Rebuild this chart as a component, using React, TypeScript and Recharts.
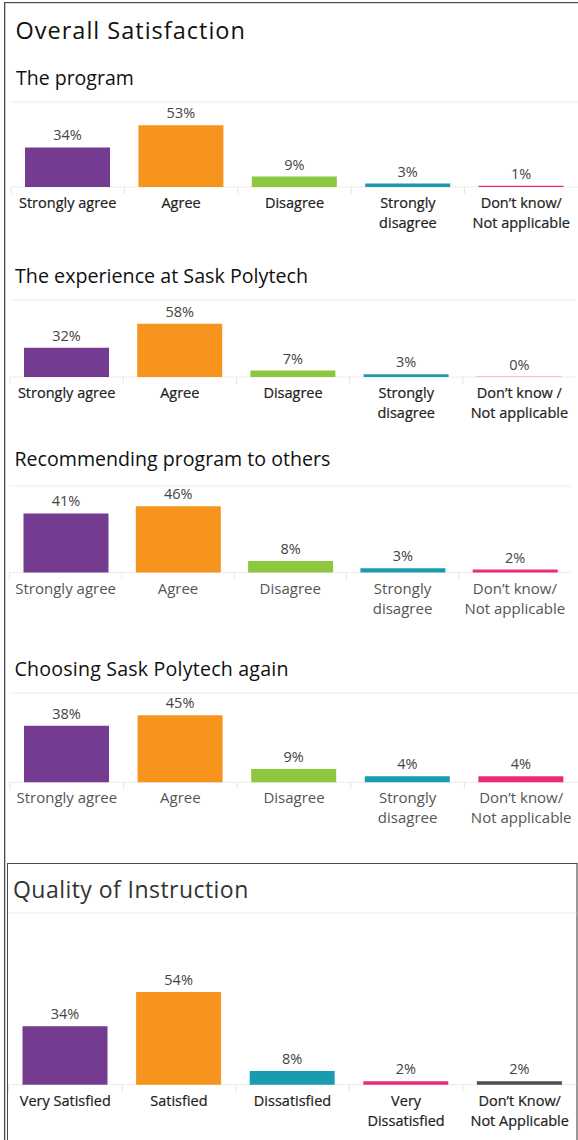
import React from "react";
import { BarChart, Bar, XAxis, YAxis, CartesianGrid, Cell, LabelList } from "recharts";

const FONT = "'Open Sans', 'Noto Sans', sans-serif";
const W = 578;

// ---- data ----
const agreeCategories = ["Strongly agree", "Agree", "Disagree", "Strongly\ndisagree", "Don’t know/\nNot applicable"];
const experienceCategories = ["Strongly agree", "Agree", "Disagree", "Strongly\ndisagree", "Don’t know /\nNot applicable"];
const instructionCategories = ["Very Satisfied", "Satisfied", "Dissatisfied", "Very\nDissatisfied", "Don’t Know/\nNot Applicable"];

const programValues = [34, 53, 9, 3, 1];
const experienceValues = [32, 58, 7, 3, 0.3];
const recommendValues = [41, 46, 8, 3, 2];
const chooseAgainValues = [38, 45, 9, 4, 4];
const instructionValues = [34, 54, 8, 2, 2];

const programTicks = [0, 20, 40, 60];
const experienceTicks = [0, 50];
const recommendTicks = [0, 20, 40, 60];
const chooseAgainTicks = [0, 20, 40, 60];
const instructionTicks = [0, 20, 40, 60, 80, 100];

const agreeColors = ["#753B91", "#F7941E", "#8DC63F", "#1A9BB1", "#EC2B7B"];
const instructionColors = ["#753B91", "#F7941E", "#1A9BB1", "#EC2B7B", "#4D4D4D"];

type PanelProps = {
  categories: string[];
  values: number[];
  colors: string[];
  plotTop: number;
  baseline: number;
  left: number;
  right: number;
  domainMax: number;
  ticks: number[];
  medium: boolean;
  tickColor: string;
  tickSize: number;
};

function Panel(p: PanelProps) {
  const data = p.categories.map((c, i) => ({ category: c, value: p.values[i] }));
  const marginTop = 30;
  const axisH = 50;
  const chartTop = p.plotTop - marginTop;
  const height = marginTop + (p.baseline - p.plotTop) + axisH;
  const band = (p.right - p.left) / p.categories.length;

  const renderTick = (props: any) => {
    const { x, y, payload } = props;
    const lines = String(payload.value).split("\n");
    return (
      <g>
        <line x1={x - band / 2} x2={x - band / 2} y1={y} y2={y + 7} stroke="#e4e4e4" />
        <text
          x={x}
          y={y + 21}
          textAnchor="middle"
          fill={p.tickColor}
          stroke={p.medium ? p.tickColor : "none"}
          strokeWidth={p.medium ? 0.22 : 0}
          fontSize={p.tickSize}
          fontFamily={FONT}
        >
          {lines.map((l, i) => (
            <tspan key={i} x={x} dy={i === 0 ? 0 : 20}>
              {l}
            </tspan>
          ))}
        </text>
      </g>
    );
  };

  return (
    <div style={{ position: "absolute", left: 0, top: chartTop }}>
      <BarChart
        width={W}
        height={height}
        data={data}
        margin={{ top: marginTop, right: W - p.right, bottom: 0, left: p.left }}
      >
        <CartesianGrid vertical={false} stroke="#ececec" />
        <YAxis
          type="number"
          width={0}
          domain={[0, p.domainMax]}
          ticks={p.ticks}
          tick={false}
          tickLine={false}
          axisLine={{ stroke: "#e4e4e4" }}
        />
        <XAxis
          dataKey="category"
          axisLine={false}
          tickLine={false}
          tickSize={0}
          tickMargin={0}
          height={axisH}
          interval={0}
          tick={renderTick}
        />
        <Bar dataKey="value" barSize={85} isAnimationActive={false}>
          {data.map((d, i) => (
            <Cell key={i} fill={p.colors[i]} />
          ))}
          <LabelList
            dataKey="value"
            position="top"
            offset={7}
            fill="#444"
            fontSize={14.5}
            fontFamily={FONT}
            formatter={(v: any) => `${Math.round(Number(v))}%`}
          />
        </Bar>
      </BarChart>
    </div>
  );
}

export default function App() {
  return (
    <div style={{ position: "absolute", left: 0, top: 0, width: W, height: 1140, background: "#fff", overflow: "hidden", fontFamily: FONT }}>
      <svg width={W} height={1140} style={{ position: "absolute", left: 0, top: 0 }}>
        <rect x={4} y={2} width={1.3} height={1138} fill="#4a4a4a" />
        <rect x={4} y={2} width={574} height={1.2} fill="#4a4a4a" />
        <rect x={7} y={863} width={570} height={1} fill="#4a4a4a" />
        <rect x={7} y={863} width={1} height={277} fill="#4a4a4a" />
        <rect x={576.5} y={863} width={1} height={277} fill="#333" />
        <text x={15.5} y={39.3} fontSize={23.5} letterSpacing={1} fill="#111" fontFamily={FONT}>Overall Satisfaction</text>
        <text x={16} y={85} fontSize={19.5} fill="#111" fontFamily={FONT}>The program</text>
        <text x={15} y={283.3} fontSize={19.7} fill="#111" fontFamily={FONT}>The experience at Sask Polytech</text>
        <text x={14.5} y={466} fontSize={19.6} fill="#111" fontFamily={FONT}>Recommending program to others</text>
        <text x={14.5} y={676} fontSize={19.6} letterSpacing={0.2} fill="#111" fontFamily={FONT}>Choosing Sask Polytech again</text>
        <text x={13} y={898.3} fontSize={23} letterSpacing={0.45} fill="#333" fontFamily={FONT}>Quality of Instruction</text>
      </svg>
      <Panel categories={agreeCategories} values={programValues} colors={agreeColors}
        plotTop={102} baseline={187} left={11} right={578} domainMax={73} ticks={programTicks}
        medium={true} tickColor="#222" tickSize={14.5} />
      <Panel categories={experienceCategories} values={experienceValues} colors={agreeColors}
        plotTop={300} baseline={377} left={10} right={576} domainMax={84} ticks={experienceTicks}
        medium={true} tickColor="#222" tickSize={14.5} />
      <Panel categories={agreeCategories} values={recommendValues} colors={agreeColors}
        plotTop={485.5} baseline={572} left={9.5} right={571} domainMax={60} ticks={recommendTicks}
        medium={false} tickColor="#555" tickSize={15} />
      <Panel categories={agreeCategories} values={chooseAgainValues} colors={agreeColors}
        plotTop={692.7} baseline={782} left={10} right={578} domainMax={60} ticks={chooseAgainTicks}
        medium={false} tickColor="#555" tickSize={15} />
      <Panel categories={instructionCategories} values={instructionValues} colors={instructionColors}
        plotTop={913.3} baseline={1085} left={8.5} right={576.5} domainMax={100} ticks={instructionTicks}
        medium={true} tickColor="#222" tickSize={14.5} />
    </div>
  );
}
